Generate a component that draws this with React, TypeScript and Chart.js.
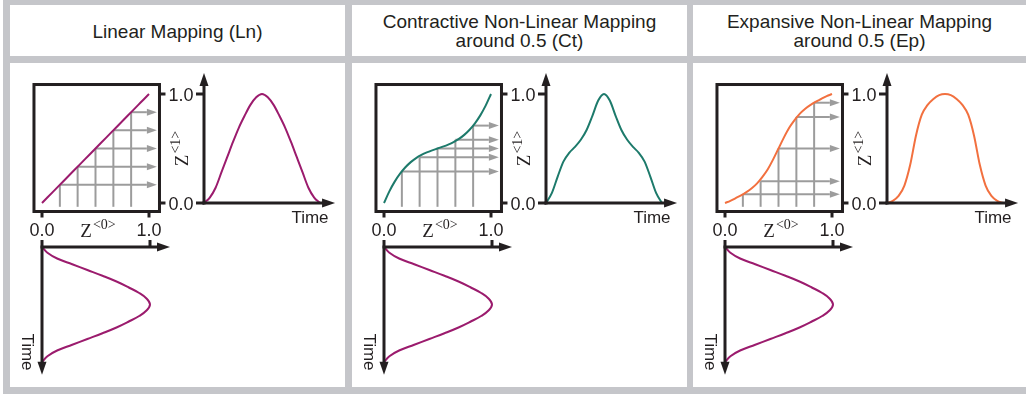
import React, { useEffect, useRef } from "react";
import { Chart, registerables } from "chart.js";

Chart.register(...registerables);

// ---------------- data ----------------
const TIME = [0, 0.05, 0.1, 0.15, 0.2, 0.25, 0.3, 0.35, 0.4, 0.45, 0.5, 0.55, 0.6, 0.65, 0.7, 0.75, 0.8, 0.85, 0.9, 0.95, 1];
const INPUT_Z0 = [0, 0.05, 0.14, 0.28, 0.42, 0.56, 0.69, 0.8, 0.9, 0.97, 1, 0.97, 0.9, 0.8, 0.69, 0.56, 0.42, 0.28, 0.14, 0.05, 0];

const MAP_X = [0, 0.05, 0.1, 0.15, 0.2, 0.25, 0.3, 0.35, 0.4, 0.45, 0.5, 0.55, 0.6, 0.65, 0.7, 0.75, 0.8, 0.85, 0.9, 0.95, 1];
const MAP_LN = [0, 0.05, 0.1, 0.15, 0.2, 0.25, 0.3, 0.35, 0.4, 0.45, 0.5, 0.55, 0.6, 0.65, 0.7, 0.75, 0.8, 0.85, 0.9, 0.95, 1];
const MAP_CT = [0, 0.107, 0.196, 0.269, 0.328, 0.375, 0.412, 0.441, 0.464, 0.483, 0.5, 0.517, 0.536, 0.559, 0.588, 0.625, 0.672, 0.731, 0.804, 0.893, 1];
const MAP_EP = [0, 0.02, 0.045, 0.07, 0.1, 0.135, 0.18, 0.24, 0.31, 0.4, 0.5, 0.6, 0.69, 0.76, 0.82, 0.865, 0.9, 0.93, 0.955, 0.98, 1];

const OUT_LN = [0, 0.05, 0.14, 0.28, 0.42, 0.56, 0.69, 0.8, 0.9, 0.97, 1, 0.97, 0.9, 0.8, 0.69, 0.56, 0.42, 0.28, 0.14, 0.05, 0];
const OUT_CT = [0, 0.09, 0.24, 0.38, 0.46, 0.515, 0.58, 0.67, 0.8, 0.94, 1, 0.94, 0.8, 0.67, 0.58, 0.515, 0.46, 0.38, 0.24, 0.09, 0];
const OUT_EP = [0, 0.02, 0.065, 0.16, 0.35, 0.62, 0.81, 0.9, 0.955, 0.99, 1, 0.99, 0.955, 0.9, 0.81, 0.62, 0.35, 0.16, 0.065, 0.02, 0];

const GRID_IN = [0.167, 0.333, 0.5, 0.667, 0.833];
const GRID_LN = [0.167, 0.333, 0.5, 0.667, 0.833];
const GRID_CT = [0.29, 0.42, 0.5, 0.58, 0.71];
const GRID_EP = [0.08, 0.2, 0.5, 0.79, 0.92];

const TICK_VALUES = [0, 1];
const TICK_LABELS = ["0.0", "1.0"];

const TITLE_LN = ["Linear Mapping (Ln)"];
const TITLE_CT = ["Contractive Non-Linear Mapping", "around 0.5 (Ct)"];
const TITLE_EP = ["Expansive Non-Linear Mapping", "around 0.5 (Ep)"];

// ---------------- styles / layout ----------------
const PURPLE = "#9b1b6d";
const TEAL = "#1d7a6b";
const ORANGE = "#f2703f";
const GREY_LINE = "#9c9c9c";
const INK = "#231f20";
const FRAME = "#c5c6ca";
const SANS = "'Liberation Sans', Arial, Helvetica, sans-serif";
const SERIF = "'Liberation Serif', 'Times New Roman', serif";

const W = 335;
const H = 324;

// pixel anchors (inside each panel body) for value 0 and value 1
const ANCH = {
  mx: [32, 139],
  my: [140, 31],
  ox: [194, 310],
  ix: [32, 140],
  iy: [184, 299],
};

const GRID_BOTTOM = -0.035;
const ARROW_END = 0.98;

function span(p0: number, p1: number, size: number) {
  const u = p1 - p0;
  const a = (0 - p0) / u;
  const b = (size - p0) / u;
  return { min: Math.min(a, b), max: Math.max(a, b) };
}

function head(ctx: CanvasRenderingContext2D, tx: number, ty: number, ang: number, len: number, half: number, color: string) {
  ctx.save();
  ctx.translate(tx, ty);
  ctx.rotate(ang);
  ctx.beginPath();
  ctx.moveTo(0, 0);
  ctx.lineTo(-len, -half);
  ctx.lineTo(-len, half);
  ctx.closePath();
  ctx.fillStyle = color;
  ctx.fill();
  ctx.restore();
}

function axisArrow(ctx: CanvasRenderingContext2D, x0: number, y0: number, tx: number, ty: number) {
  const ang = Math.atan2(ty - y0, tx - x0);
  const len = 13;
  ctx.beginPath();
  ctx.moveTo(x0, y0);
  ctx.lineTo(tx - Math.cos(ang) * (len - 1), ty - Math.sin(ang) * (len - 1));
  ctx.stroke();
  head(ctx, tx, ty, ang, len, 4.5, INK);
}

function line(ctx: CanvasRenderingContext2D, x0: number, y0: number, x1: number, y1: number) {
  ctx.beginPath();
  ctx.moveTo(x0, y0);
  ctx.lineTo(x1, y1);
  ctx.stroke();
}

function zLabel(ctx: CanvasRenderingContext2D, cx: number, cy: number, sup: string, rot: number, baseShift: number) {
  ctx.save();
  ctx.translate(cx, cy);
  ctx.rotate(rot);
  ctx.fillStyle = INK;
  ctx.textAlign = "left";
  ctx.textBaseline = "alphabetic";
  const zFont = `19px ${SERIF}`;
  const sFont = `14px ${SERIF}`;
  ctx.font = zFont;
  const wz = ctx.measureText("Z").width;
  ctx.font = sFont;
  const ws = ctx.measureText(sup).width;
  const total = wz + 1 + ws;
  ctx.font = zFont;
  ctx.fillText("Z", -total / 2, baseShift);
  ctx.font = sFont;
  ctx.fillText(sup, -total / 2 + wz + 1, baseShift - 8);
  ctx.restore();
}

const diagramPlugin = {
  id: "diagram",
  afterDatasetsDraw(chart: any) {
    const ctx: CanvasRenderingContext2D = chart.ctx;
    const { mx, my, ox, ix, iy } = chart.scales;
    const P = (s: any, v: number) => s.getPixelForValue(v);
    ctx.save();

    // grey arrow heads at the end of the mapping guide lines
    chart.data.datasets.forEach((ds: any, i: number) => {
      if (!ds.arrow) return;
      const pts = chart.getDatasetMeta(i).data;
      const a = pts[pts.length - 2];
      const b = pts[pts.length - 1];
      const ang = Math.atan2(b.y - a.y, b.x - a.x);
      head(ctx, b.x + Math.cos(ang) * 10, b.y + Math.sin(ang) * 10, ang, 10, 3.5, ds.borderColor);
    });

    ctx.strokeStyle = INK;
    ctx.fillStyle = INK;
    ctx.lineWidth = 3;
    ctx.lineCap = "butt";

    // mapping frame
    const bx0 = P(mx, -0.075);
    const bx1 = P(mx, 1.098);
    const by0 = P(my, 1.087);
    const by1 = P(my, -0.078);
    ctx.strokeRect(bx0, by0, bx1 - bx0, by1 - by0);

    ctx.font = `18px ${SANS}`;
    ctx.textAlign = "center";
    ctx.textBaseline = "alphabetic";
    TICK_VALUES.forEach((v, k) => {
      line(ctx, P(mx, v), by1, P(mx, v), by1 + 6);
      ctx.fillText(TICK_LABELS[k], P(mx, v), by1 + 24.5);
      line(ctx, bx1, P(my, v), bx1 + 6, P(my, v));
      ctx.fillText(TICK_LABELS[k], bx1 + 21.5, P(my, v) + 6.5);
      line(ctx, P(ox, 0) - 8, P(my, v), P(ox, 0), P(my, v));
    });

    // output axes
    axisArrow(ctx, P(ox, 0), P(my, 0) + 1.5, P(ox, 0), P(my, 1.193));
    axisArrow(ctx, P(ox, 0) - 1.5, P(my, 0), P(ox, 1.13), P(my, 0));

    // input axes
    axisArrow(ctx, P(ix, 0) - 1.5, P(iy, 0), P(ix, 1.185), P(iy, 0));
    line(ctx, P(ix, 1), P(iy, 0), P(ix, 1), P(iy, 0) - 7);
    axisArrow(ctx, P(ix, 0), P(iy, 0) - 7, P(ix, 0), P(iy, 1.11));

    // labels
    ctx.font = `17px ${SANS}`;
    ctx.textAlign = "center";
    ctx.fillText("Time", P(ox, 1) - 10, P(my, 0) + 20);

    ctx.save();
    ctx.translate(P(ix, 0) - 15, P(iy, 0.913));
    ctx.rotate(Math.PI / 2);
    ctx.textBaseline = "middle";
    ctx.fillText("Time", 0, 0);
    ctx.restore();

    zLabel(ctx, P(mx, 0.5) + 2.5, by1 + 25, "<0>", 0, 0);
    zLabel(ctx, P(ox, 0) - 22, P(my, 0.5), "<1>", -Math.PI / 2, 6);

    ctx.restore();
  },
};

function seg(points: { x: number; y: number }[], xAxisID: string, yAxisID: string, color: string, width: number, extra: any = {}) {
  return {
    data: points,
    xAxisID,
    yAxisID,
    borderColor: color,
    backgroundColor: color,
    borderWidth: width,
    showLine: true,
    pointRadius: 0,
    pointHoverRadius: 0,
    fill: false,
    tension: 0,
    ...extra,
  };
}

function buildConfig(mapY: number[], outY: number[], gridY: number[], color: string): any {
  const smooth = { cubicInterpolationMode: "monotone" };
  const datasets: any[] = [
    seg(MAP_X.map((x, i) => ({ x, y: mapY[i] })), "mx", "my", color, 2, smooth),
    seg(TIME.map((t, i) => ({ x: t, y: outY[i] })), "ox", "my", color, 2, smooth),
    seg(TIME.map((t, i) => ({ x: INPUT_Z0[i], y: t })), "ix", "iy", PURPLE, 2, { tension: 0.4 }),
  ];
  GRID_IN.forEach((gx, i) => {
    datasets.push(seg([{ x: gx, y: GRID_BOTTOM }, { x: gx, y: gridY[i] }], "mx", "my", GREY_LINE, 2));
    datasets.push(seg([{ x: gx, y: gridY[i] }, { x: ARROW_END, y: gridY[i] }], "mx", "my", GREY_LINE, 2, { arrow: true }));
  });
  const hidden = { display: false, bounds: "data" as const, grid: { display: false }, ticks: { display: false } };
  return {
    type: "scatter",
    data: { datasets },
    options: {
      animation: false,
      responsive: false,
      devicePixelRatio: 1,
      events: [],
      layout: { padding: 0 },
      plugins: { legend: { display: false }, tooltip: { enabled: false }, title: { display: false } },
      scales: {
        mx: { type: "linear", axis: "x", ...hidden, ...span(ANCH.mx[0], ANCH.mx[1], W) },
        my: { type: "linear", axis: "y", ...hidden, ...span(ANCH.my[0], ANCH.my[1], H) },
        ox: { type: "linear", axis: "x", ...hidden, ...span(ANCH.ox[0], ANCH.ox[1], W) },
        ix: { type: "linear", axis: "x", ...hidden, ...span(ANCH.ix[0], ANCH.ix[1], W) },
        iy: { type: "linear", axis: "y", reverse: true, ...hidden, ...span(ANCH.iy[0], ANCH.iy[1], H) },
      },
    },
    plugins: [diagramPlugin],
  };
}

function PanelChart(props: { mapY: number[]; outY: number[]; gridY: number[]; color: string }) {
  const ref = useRef<HTMLCanvasElement>(null);
  useEffect(() => {
    const chart = new Chart(ref.current as HTMLCanvasElement, buildConfig(props.mapY, props.outY, props.gridY, props.color));
    return () => chart.destroy();
  }, []);
  return <canvas ref={ref} width={W} height={H} style={{ display: "block", width: W, height: H }} />;
}

const PANEL_X = [10, 352, 693];
const PANEL_W = [335, 335, 333];

export default function App() {
  const panels = [
    { title: TITLE_LN, mapY: MAP_LN, outY: OUT_LN, gridY: GRID_LN, color: PURPLE },
    { title: TITLE_CT, mapY: MAP_CT, outY: OUT_CT, gridY: GRID_CT, color: TEAL },
    { title: TITLE_EP, mapY: MAP_EP, outY: OUT_EP, gridY: GRID_EP, color: ORANGE },
  ];
  return (
    <div style={{ position: "fixed", left: 0, top: 0, width: 1026, height: 394, background: "#fff", overflow: "hidden" }}>
      <div style={{ position: "absolute", left: 3, top: 0, width: 1023, height: 394, background: FRAME }} />
      {panels.map((p, k) => (
        <React.Fragment key={k}>
          <div
            style={{
              position: "absolute",
              left: PANEL_X[k],
              top: 5,
              width: PANEL_W[k],
              height: 51,
              background: "#fff",
              display: "flex",
              flexDirection: "column",
              alignItems: "center",
              justifyContent: "center",
              boxSizing: "border-box",
              paddingTop: p.title.length === 1 ? 2 : 0,
              fontFamily: SANS,
              fontSize: 19,
              lineHeight: "19px",
              color: INK,
              textAlign: "center",
            }}
          >
            {p.title.map((t, i) => (
              <div key={i}>{t}</div>
            ))}
          </div>
          <div
            style={{
              position: "absolute",
              left: PANEL_X[k],
              top: 63,
              width: PANEL_W[k],
              height: 324,
              background: "#fff",
              overflow: "hidden",
            }}
          >
            <PanelChart mapY={p.mapY} outY={p.outY} gridY={p.gridY} color={p.color} />
          </div>
        </React.Fragment>
      ))}
    </div>
  );
}
